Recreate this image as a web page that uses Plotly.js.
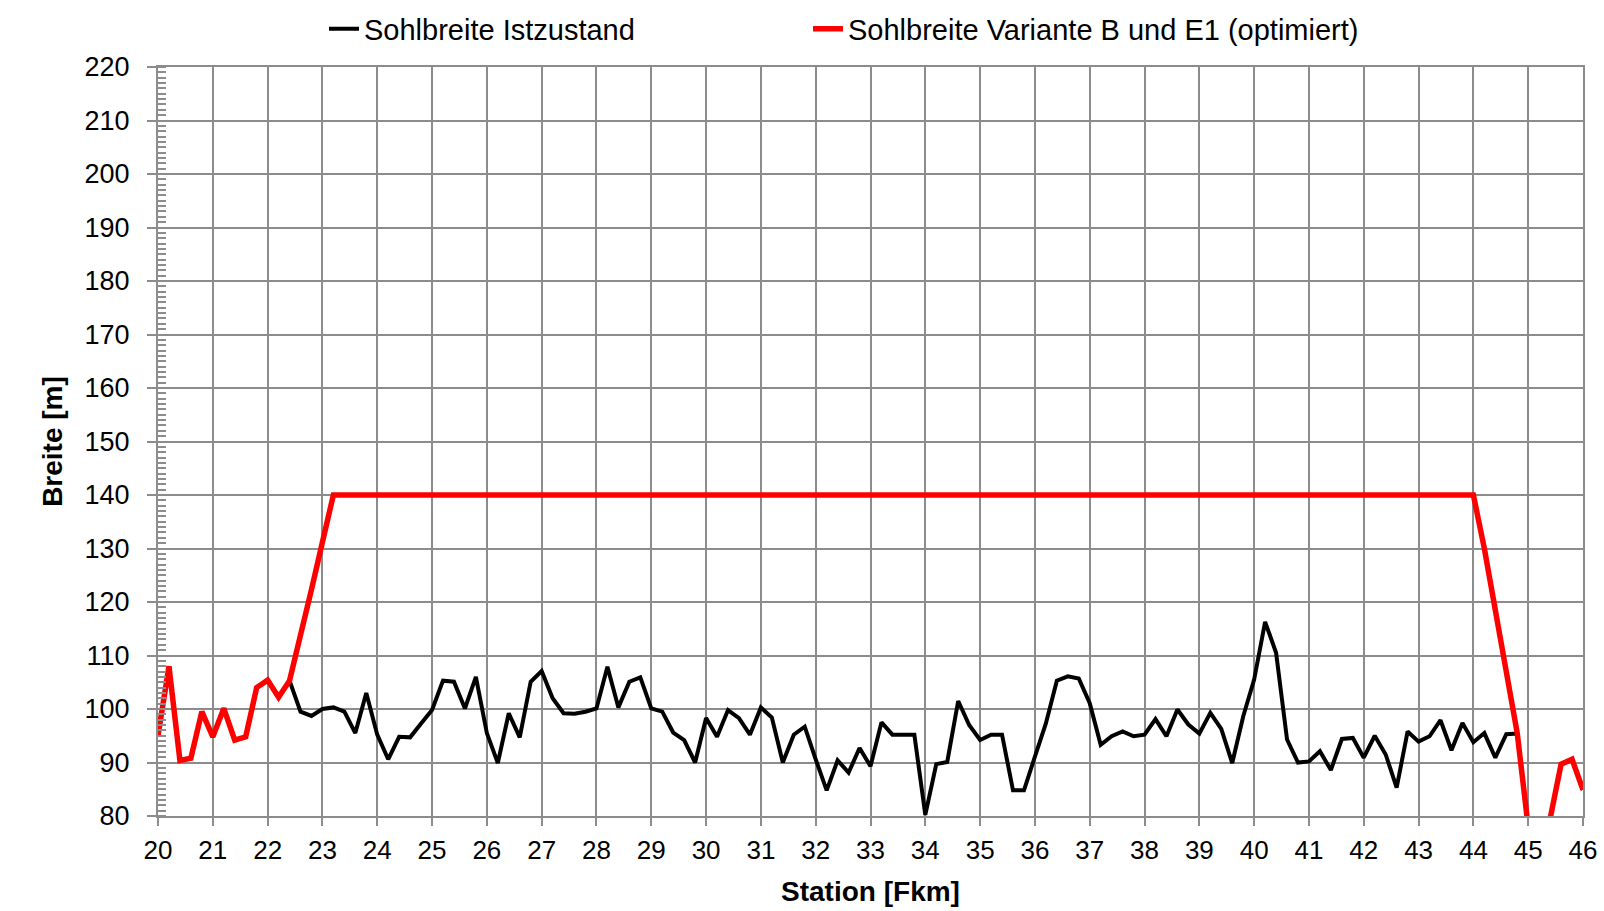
<!DOCTYPE html>
<html>
<head>
<meta charset="utf-8">
<script src="https://cdn.plot.ly/plotly-3.0.1.min.js"></script>
<style>
  html, body { margin: 0; padding: 0; background: #ffffff; }
  #chart { width: 1604px; height: 911px; }
</style>
</head>
<body>
<div id="chart"></div>
<script>
// Station [Fkm]
const station = [
  20.0, 20.2, 20.4, 20.6, 20.8, 21.0, 21.2, 21.4, 21.6, 21.8,
  22.0, 22.2, 22.4, 22.6, 22.8, 23.0, 23.2, 23.4, 23.6, 23.8,
  24.0, 24.2, 24.4, 24.6, 24.8, 25.0, 25.2, 25.4, 25.6, 25.8,
  26.0, 26.2, 26.4, 26.6, 26.8, 27.0, 27.2, 27.4, 27.6, 27.8,
  28.0, 28.2, 28.4, 28.6, 28.8, 29.0, 29.2, 29.4, 29.6, 29.8,
  30.0, 30.2, 30.4, 30.6, 30.8, 31.0, 31.2, 31.4, 31.6, 31.8,
  32.0, 32.2, 32.4, 32.6, 32.8, 33.0, 33.2, 33.4, 33.6, 33.8,
  34.0, 34.2, 34.4, 34.6, 34.8, 35.0, 35.2, 35.4, 35.6, 35.8,
  36.0, 36.2, 36.4, 36.6, 36.8, 37.0, 37.2, 37.4, 37.6, 37.8,
  38.0, 38.2, 38.4, 38.6, 38.8, 39.0, 39.2, 39.4, 39.6, 39.8,
  40.0, 40.2, 40.4, 40.6, 40.8, 41.0, 41.2, 41.4, 41.6, 41.8,
  42.0, 42.2, 42.4, 42.6, 42.8, 43.0, 43.2, 43.4, 43.6, 43.8,
  44.0, 44.2, 44.4, 44.6, 44.8, 45.0, 45.2, 45.4, 45.6, 45.8,
  46.0
];

// Sohlbreite Istzustand [m]
const istzustand = [
  95.0, 108.0, 90.4, 90.8, 99.5, 94.8, 100.1, 94.2, 94.8, 104.0,
  105.4, 102.2, 105.3, 99.5, 98.7, 100.0, 100.3, 99.5, 95.5, 103.0,
  95.2, 90.6, 94.8, 94.7, 97.3, 99.8, 105.3, 105.1, 100.1, 106.0,
  95.5, 89.9, 99.2, 94.7, 105.1, 107.1, 102.0, 99.2, 99.1, 99.5,
  100.1, 107.9, 100.3, 105.1, 105.9, 100.1, 99.5, 95.6, 94.2, 90.0,
  98.3, 94.8, 99.8, 98.3, 95.2, 100.3, 98.4, 90.0, 95.2, 96.7,
  90.6, 84.8, 90.4, 88.1, 92.7, 89.3, 97.5, 95.2, 95.2, 95.2,
  80.2, 89.7, 90.1, 101.5, 97.0, 94.2, 95.2, 95.2, 84.8, 84.8,
  91.1, 97.3, 105.3, 106.1, 105.7, 101.1, 93.3, 94.9, 95.8, 94.9,
  95.2, 98.1, 94.9, 99.9, 97.1, 95.4, 99.3, 96.3, 89.9, 98.6,
  105.5, 116.3, 110.5, 94.3, 90.0, 90.2, 92.1, 88.6, 94.4, 94.6,
  90.9, 95.0, 91.5, 85.3, 95.8, 93.9, 94.9, 97.9, 92.3, 97.4,
  93.8, 95.5, 90.9, 95.3, 95.4, 78.0, 72.0, 79.5, 89.7, 90.6,
  84.9
];

// Sohlbreite Variante B und E1 (optimiert) [m]
const varianteBE1 = [
  95.0, 108.0, 90.4, 90.8, 99.5, 94.8, 100.1, 94.2, 94.8, 104.0,
  105.4, 102.2, 105.3, 113.5, 122.3, 131.2, 140.0, 140.0, 140.0, 140.0,
  140.0, 140.0, 140.0, 140.0, 140.0, 140.0, 140.0, 140.0, 140.0, 140.0,
  140.0, 140.0, 140.0, 140.0, 140.0, 140.0, 140.0, 140.0, 140.0, 140.0,
  140.0, 140.0, 140.0, 140.0, 140.0, 140.0, 140.0, 140.0, 140.0, 140.0,
  140.0, 140.0, 140.0, 140.0, 140.0, 140.0, 140.0, 140.0, 140.0, 140.0,
  140.0, 140.0, 140.0, 140.0, 140.0, 140.0, 140.0, 140.0, 140.0, 140.0,
  140.0, 140.0, 140.0, 140.0, 140.0, 140.0, 140.0, 140.0, 140.0, 140.0,
  140.0, 140.0, 140.0, 140.0, 140.0, 140.0, 140.0, 140.0, 140.0, 140.0,
  140.0, 140.0, 140.0, 140.0, 140.0, 140.0, 140.0, 140.0, 140.0, 140.0,
  140.0, 140.0, 140.0, 140.0, 140.0, 140.0, 140.0, 140.0, 140.0, 140.0,
  140.0, 140.0, 140.0, 140.0, 140.0, 140.0, 140.0, 140.0, 140.0, 140.0,
  140.0, 130.0, 118.5, 107.0, 95.5, 78.0, 72.0, 79.5, 89.7, 90.6,
  84.9
];

const seriesNames = ['Sohlbreite Istzustand', 'Sohlbreite Variante B und E1 (optimiert)'];
const xTitle = 'Station [Fkm]';
const yTitle = 'Breite [m]';

const FONT = 'Liberation Sans, Arial, sans-serif';
const GRID = '#8c8c8c';

const traces = [
  {
    x: station, y: istzustand, name: seriesNames[0], type: 'scatter', mode: 'lines',
    line: { color: '#000000', width: 4 }, legend: 'legend'
  },
  {
    x: station, y: varianteBE1, name: seriesNames[1], type: 'scatter', mode: 'lines',
    line: { color: '#ff0000', width: 5.5 }, legend: 'legend2'
  }
];

const legendCommon = {
  orientation: 'h', xref: 'container', yref: 'container',
  xanchor: 'left', yanchor: 'middle', y: 1 - 29 / 911,
  font: { family: FONT, size: 29, color: '#000000' },
  bgcolor: 'rgba(0,0,0,0)', borderwidth: 0, itemwidth: 30
};

const layout = {
  width: 1604, height: 911,
  paper_bgcolor: '#ffffff', plot_bgcolor: '#ffffff',
  margin: { l: 158, r: 21, t: 67, b: 95, pad: 0 },
  font: { family: FONT, color: '#000000' },
  showlegend: true,
  legend: Object.assign({}, legendCommon, { x: 324 / 1604 }),
  legend2: Object.assign({}, legendCommon, { x: 808 / 1604 }),
  xaxis: {
    range: [20, 46], tick0: 20, dtick: 1, autorange: false,
    showgrid: true, gridcolor: GRID, gridwidth: 2,
    showline: true, linecolor: GRID, linewidth: 2, mirror: true,
    zeroline: false,
    ticks: 'outside', ticklen: 8, tickwidth: 2, tickcolor: GRID,
    tickfont: { family: FONT, size: 26, color: '#000000' },
    ticklabelstandoff: 2,
    title: { text: xTitle, font: { family: FONT, size: 28, color: '#000000', weight: 'bold' }, standoff: 17 }
  },
  yaxis: {
    range: [80, 220], tick0: 80, dtick: 10, autorange: false,
    showgrid: true, gridcolor: GRID, gridwidth: 2,
    showline: true, linecolor: GRID, linewidth: 2, mirror: true,
    zeroline: false,
    ticks: 'outside', ticklen: 9, tickwidth: 2, tickcolor: GRID,
    tickfont: { family: FONT, size: 27, color: '#000000' },
    ticklabelstandoff: 12,
    minor: { dtick: 1, ticks: 'inside', ticklen: 8, tickwidth: 1.5, tickcolor: GRID, showgrid: false },
    title: { text: yTitle, font: { family: FONT, size: 28, color: '#000000', weight: 'bold' }, standoff: 14 }
  }
};

Plotly.newPlot('chart', traces, layout, { displayModeBar: false, responsive: false });
</script>
</body>
</html>
